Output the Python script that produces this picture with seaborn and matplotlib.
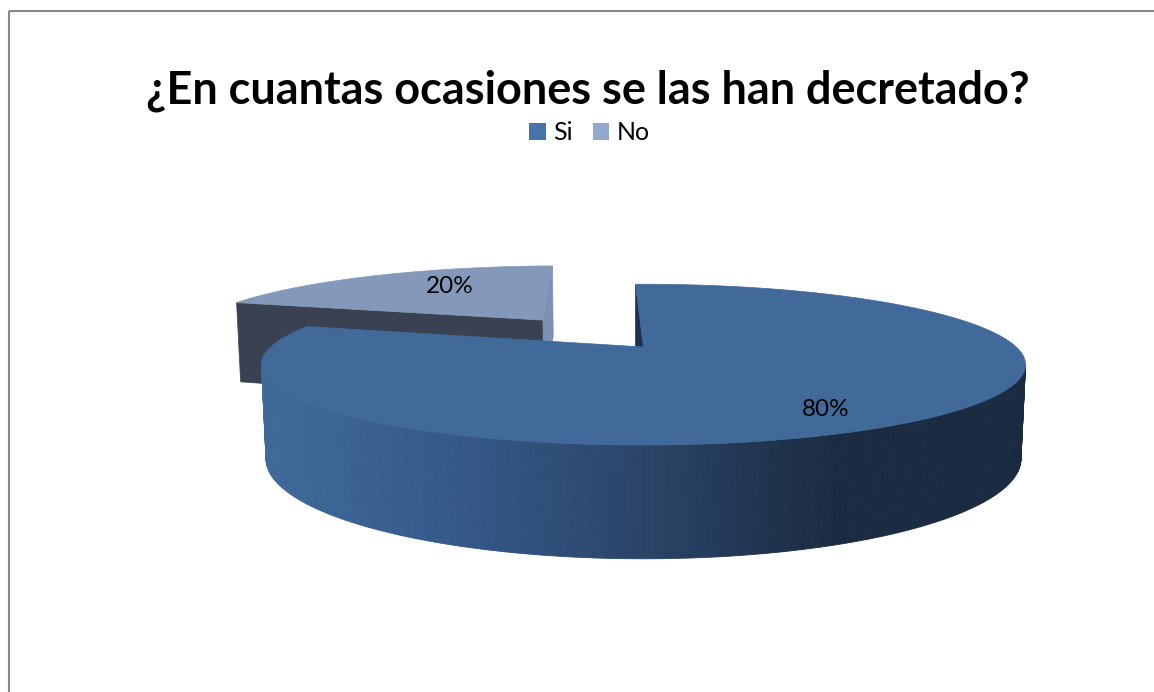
import numpy as np
import matplotlib
matplotlib.use("Agg")
import matplotlib.pyplot as plt
from matplotlib.patches import Polygon, Rectangle, Patch
import seaborn as sns

# ---- data ----
title = "¿En cuantas ocasiones se las han decretado?"
categories = ["Si", "No"]
shares = [80, 20]                      # percent of answers
label_texts = [f"{v}%" for v in shares]

# ---- styling ----
legend_colors = ["#4673A8", "#93A8D0"]
top_colors = ["#41699A", "#8498BA"]
cut_colors_hi = ["#1E3152", "#3A4153"]   # radial wall at the counter-clockwise end
cut_colors_lo = ["#1E3152", "#7D91B4"]   # radial wall at the clockwise end
explode = [0.0, 0.48]
start_angle = 91.5                        # degrees, slices run clockwise

sns.set_theme(style="white")
plt.rcParams["font.family"] = ["Lato", "DejaVu Sans"]

W, H = 1154, 692
fig = plt.figure(figsize=(W / 100, H / 100), dpi=100)
ax = fig.add_axes([0, 0, 1, 1])
ax.set_xlim(0, W)
ax.set_ylim(H, 0)
ax.axis("off")

# ---- perspective camera for the 3-D pie ----
elev = np.radians(11.85)
ce, se = np.cos(elev), np.sin(elev)
D = 4.459          # camera distance (pie radius = 1)
F = 1662.0         # focal scale in pixels
cx0, cy0 = 643.5, 347.0
thick = 0.25
cam = np.array([0.0, -D * ce])   # camera position in the pie plane (X, Z)


def project(X, Y, Z):
    yc = Y * ce + Z * se
    zc = D + Z * ce - Y * se
    return cx0 + F * X / zc, cy0 - F * yc / zc


def facing(px, pz, nx, nz):
    return (cam[0] - px) * nx + (cam[1] - pz) * nz > 0


# side-wall shading runs from light on the left to dark on the right
side_pal = sns.blend_palette(["#3F6A9A", "#35598A", "#2A4468", "#1B2B41", "#1A2A40"], 256)


def side_color(x):
    t = np.clip((x - 262) / (1025 - 262), 0, 1)
    return side_pal[int(t * 255)]


fracs = np.array(shares, dtype=float) / sum(shares)
bounds = start_angle - 360 * np.concatenate([[0], np.cumsum(fracs)])

wedges = []
for i in range(len(shares)):
    a1, a0 = bounds[i], bounds[i + 1]
    mid = np.radians((a0 + a1) / 2)
    ox, oz = explode[i] * np.cos(mid), explode[i] * np.sin(mid)
    wedges.append((a0, a1, mid, ox, oz))


def draw_wedge(i):
    a0, a1, mid, ox, oz = wedges[i]
    ts = np.radians(np.linspace(a0, a1, 400))
    # curved outer wall
    for k in range(len(ts) - 1):
        tm = 0.5 * (ts[k] + ts[k + 1])
        if not facing(ox + np.cos(tm), oz + np.sin(tm), np.cos(tm), np.sin(tm)):
            continue
        pts = []
        for t, y in ((ts[k], 0), (ts[k + 1], 0), (ts[k + 1], -thick), (ts[k], -thick)):
            pts.append(project(ox + np.cos(t), y, oz + np.sin(t)))
        xm = np.mean([p[0] for p in pts])
        c = side_color(xm)
        ax.add_patch(Polygon(pts, closed=True, facecolor=c, edgecolor=c, lw=0.6))
    # radial cut walls
    for ang, nrm, col in ((a1, a1 + 90, cut_colors_hi[i]), (a0, a0 - 90, cut_colors_lo[i])):
        r = np.radians(ang)
        n = np.radians(nrm)
        if not facing(ox + 0.5 * np.cos(r), oz + 0.5 * np.sin(r), np.cos(n), np.sin(n)):
            continue
        pts = [project(ox, 0, oz), project(ox + np.cos(r), 0, oz + np.sin(r)),
               project(ox + np.cos(r), -thick, oz + np.sin(r)), project(ox, -thick, oz)]
        ax.add_patch(Polygon(pts, closed=True, facecolor=col, edgecolor=col, lw=0.5))
    # top face
    pts = [project(ox, 0, oz)] + [project(ox + np.cos(t), 0, oz + np.sin(t)) for t in ts]
    ax.add_patch(Polygon(pts, closed=True, facecolor=top_colors[i],
                         edgecolor=top_colors[i], lw=0.5))


# the exploded "No" slice sits behind, draw it first
draw_wedge(1)
draw_wedge(0)

# data labels on the top faces
label_r = [0.72, 0.5]
label_nudge = [(-5, 13), (-4, -10)]
for i, txt in enumerate(label_texts):
    a0, a1, mid, ox, oz = wedges[i]
    lx, ly = project(ox + label_r[i] * np.cos(mid), 0, oz + label_r[i] * np.sin(mid))
    ax.text(lx + label_nudge[i][0], ly + label_nudge[i][1], txt, ha="center", va="center",
            fontsize=17.5, color="black")

# chart border
ax.add_patch(Rectangle((8.5, 10.5), W + 20, H + 20, fill=False, edgecolor="#878787", lw=1.5))

# title
tt = ax.text(588, 103, title, ha="center", va="baseline", fontsize=30,
             fontweight="bold", color="black")
fig.canvas.draw()
w = tt.get_window_extent().width
tt.set_fontsize(30 * 883 / w)

# legend
handles = [Patch(facecolor=c, edgecolor="none", label=n) for c, n in zip(legend_colors, categories)]
fig.legend(handles=handles, loc="center", bbox_to_anchor=(589.5 / W, 1 - 133 / H),
           ncol=2, frameon=False, fontsize=18, handlelength=0.65, handleheight=0.65,
           handletextpad=0.3, columnspacing=0.8, borderpad=0, labelcolor="black")

fig.savefig("out.png", dpi=100)
